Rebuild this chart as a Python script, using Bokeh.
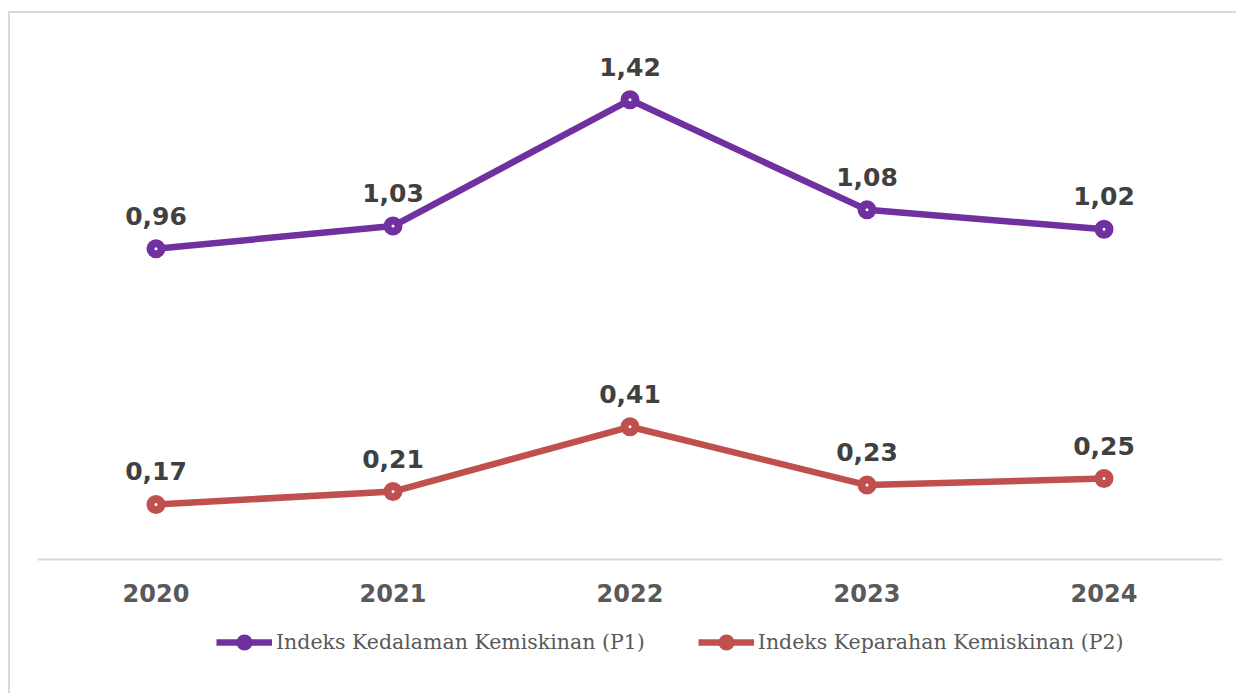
from bokeh.plotting import figure
from bokeh.models import ColumnDataSource, Legend, LegendItem, Range1d, FactorRange
from bokeh.embed import file_html
from bokeh.resources import INLINE
from bokeh.core.properties import value

years = ["2020", "2021", "2022", "2023", "2024"]
p1 = [0.96, 1.03, 1.42, 1.08, 1.02]
p2 = [0.17, 0.21, 0.41, 0.23, 0.25]
p1_labels = ["0,96", "1,03", "1,42", "1,08", "1,02"]
p2_labels = ["0,17", "0,21", "0,41", "0,23", "0,25"]
name1 = "Indeks Kedalaman Kemiskinan (P1)"
name2 = "Indeks Keparahan Kemiskinan (P2)"

purple = "#7030A0"
red = "#C0504D"

p = figure(width=1228, height=682, x_range=FactorRange(*years), y_range=Range1d(-0.42, 1.6),
           output_backend="svg", toolbar_location=None,
           min_border_left=27, min_border_right=16, min_border_top=28, min_border_bottom=0)
p.styles = {"border-left": "2px solid #d9d9d9", "border-top": "2px solid #d9d9d9",
            "margin-top": "11px", "margin-left": "8px"}
p.outline_line_color = None
p.background_fill_color = "white"
p.border_fill_color = "white"
p.xgrid.visible = False
p.ygrid.visible = False
p.yaxis.visible = False

xa = p.xaxis[0]
xa.fixed_location = 0
xa.axis_line_color = "#d9d9d9"
xa.axis_line_width = 2
xa.major_tick_line_color = None
xa.minor_tick_line_color = None
xa.major_label_text_font = "DejaVu Sans"
xa.major_label_text_font_style = "bold"
xa.major_label_text_font_size = "24px"
xa.major_label_text_color = "#595959"
xa.major_label_standoff = 18

src1 = ColumnDataSource(dict(x=years, y=p1, lab=p1_labels))
src2 = ColumnDataSource(dict(x=years, y=p2, lab=p2_labels))

l1 = p.line("x", "y", source=src1, line_color=purple, line_width=6.5)
s1 = p.scatter("x", "y", source=src1, size=11, fill_color="white", line_color=purple, line_width=8)
l2 = p.line("x", "y", source=src2, line_color=red, line_width=6.5)
s2 = p.scatter("x", "y", source=src2, size=11, fill_color="white", line_color=red, line_width=8)

for src in (src1, src2):
    p.text("x", "y", text="lab", source=src, text_font=value("DejaVu Sans"), text_font_style="bold",
           text_font_size="25px", text_color="#404040", text_align="center",
           text_baseline="alphabetic", y_offset=-33)

legend = Legend(items=[LegendItem(label=name1, renderers=[l1, s1]),
                       LegendItem(label=name2, renderers=[l2, s2])],
                orientation="horizontal", location=(179, 41))
legend.glyph_width = 56
legend.glyph_height = 20
legend.label_standoff = 4
legend.spacing = 53
legend.padding = 0
legend.margin = 0
legend.border_line_color = None
legend.background_fill_alpha = 0
legend.label_text_font = "DejaVu Serif"
legend.label_text_font_size = "20.5px"
legend.label_text_color = "#595959"
p.add_layout(legend, "center")

open("out.html", "w").write(file_html(p, INLINE))
